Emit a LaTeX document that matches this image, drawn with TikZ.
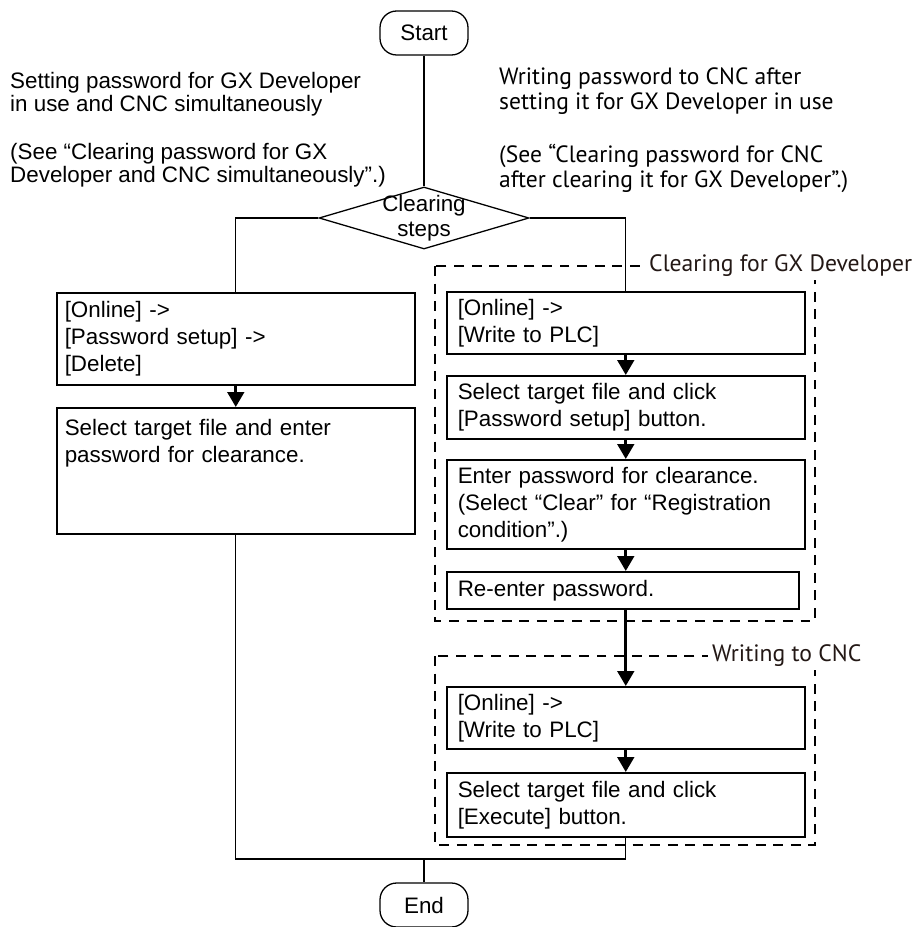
\documentclass[tikz,border=0pt]{standalone}
\usepackage{fontspec}
\setmainfont{Liberation Sans}
\newfontfamily\humanist{PT Sans}
\usepackage{xcolor}
\usepackage{tikz}
\usetikzlibrary{arrows.meta,positioning,shapes.geometric}
\definecolor{lbldark}{HTML}{231815}

\begin{document}
\begin{tikzpicture}[
  term/.style={rectangle, draw, line width=1.1pt, rounded corners=0.5cm, minimum width=2.64cm,
    minimum height=1.32cm, inner sep=0pt, font=\fontsize{19.1}{23}\selectfont},
  decide/.style={diamond, draw, line width=1.1pt, aspect=3.39, minimum width=6.3cm,
    minimum height=1.86cm, inner sep=-3.5pt, align=center, font=\fontsize{19.1}{21.3}\selectfont},
  actbox/.style={rectangle, draw, line width=1.3pt, anchor=north west, align=left,
    text width=10.08cm, inner xsep=0.33cm, inner ysep=0pt, font=\fontsize{19.1}{23}\selectfont},
  leftbox/.style={actbox, text width=10.26cm, inner xsep=0.24cm},
  grp/.style={draw, line width=1.3pt, dash pattern=on 8.5pt off 6.5pt},
  grplbl/.style={anchor=west, fill=white, inner xsep=0.12cm, inner ysep=0.1cm, text=lbldark,
    font=\humanist\fontsize{20.2}{24}\selectfont},
  note/.style={anchor=base west, align=left, inner sep=0pt, font=\fontsize{19.1}{20.4}\selectfont},
  notehum/.style={anchor=base west, align=left, inner sep=0pt, font=\humanist\fontsize{20.1}{21.7}\selectfont},
  conn/.style={line width=1.1pt},
  arr/.style={-{Triangle[width=0.5cm,length=0.45cm]}, line width=2.5pt}
]
\useasboundingbox (0,0) rectangle (27.6,-27.81);

\node[note] (lnote1) at (0.30,-3.36) {Setting password for GX Developer\\in use and CNC simultaneously};
\node[note] (lnote2) at (0.30,-5.49) {(See “Clearing password for GX\\Developer and CNC simultaneously”.)};
\node[notehum] (rnote1) at (14.97,-3.30) {Writing password to CNC after\\setting it for GX Developer in use};
\node[notehum] (rnote2) at (14.97,-5.64) {(See “Clearing password for CNC\\after clearing it for GX Developer”.)};

\node[term] (start) at (12.72,-0.99) {Start};
\node[decide] (dec) at (12.72,-6.54) {Clearing\\steps};

% dashed groups
\draw[grp] (13.05,-7.98) rectangle (24.45,-18.63);
\node[grplbl] (lblclear) at (19.35,-7.98) {Clearing for GX Developer};
\draw[grp] (13.05,-19.68) rectangle (24.45,-25.35);
\node[grplbl] (lblwrite) at (21.24,-19.68) {Writing to CNC};

\node[leftbox, minimum height=2.76cm] (n1) at (1.68,-8.76) {[Online] ->\\{}[Password setup] ->\\{}[Delete]};
\node[leftbox, minimum height=3.78cm] (n2) at (1.68,-12.21)
  {\parbox[t][3.1cm][t]{10.26cm}{Select target file and enter\\password for clearance.}};

\node[actbox, minimum height=1.86cm] (m1) at (13.38,-8.73) {[Online] ->\\{}[Write to PLC]};
\node[actbox, minimum height=1.89cm] (m2) at (13.38,-11.25) {Select target file and click\\{}[Password setup] button.};
\node[actbox, minimum height=2.67cm] (m3) at (13.38,-13.77)
  {Enter password for clearance.\\(Select “Clear” for “Registration\\condition”.)};
\node[actbox, minimum height=1.11cm, text width=9.90cm] (m4) at (13.38,-17.13) {Re-enter password.};

\node[actbox, minimum height=1.86cm] (w1) at (13.38,-20.58) {[Online] ->\\{}[Write to PLC]};
\node[actbox, minimum height=1.92cm] (w2) at (13.38,-23.16) {Select target file and click\\{}[Execute] button.};

\node[term] (stop) at (12.72,-27.15) {End};
\coordinate (jn) at (12.72,-25.77);

\draw[conn] (start) -- (dec);
\draw[conn] (dec.west) -| (n1.north);
\draw[conn] (dec.east) -| (m1.north);
\draw[arr] (n1) -- (n2);
\draw[arr] (m1) -- (m2);
\draw[arr] (m2) -- (m3);
\draw[arr] (m3.south) -- (m3.south |- m4.north);
\draw[arr] (m4.south -| w1.north) -- (w1.north);
\draw[arr] (w1) -- (w2);
\draw[conn] (n2.south) |- (jn) -| (w2.south);
\draw[conn] (jn) -- (stop.north);

\end{tikzpicture}
\end{document}
